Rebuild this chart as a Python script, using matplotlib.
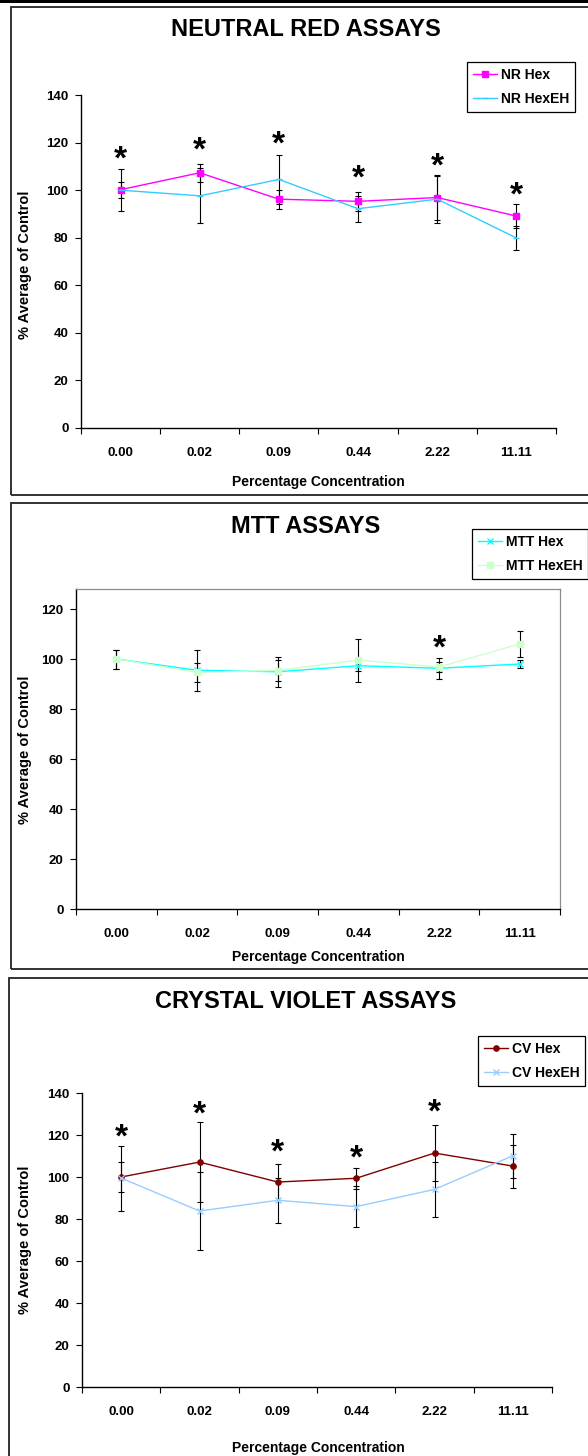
import matplotlib
matplotlib.use('Agg')
import matplotlib.pyplot as plt
from matplotlib.patches import Rectangle

plt.rcParams['font.family'] = ['Liberation Sans', 'DejaVu Sans']
plt.rcParams['font.weight'] = 'bold'

# data
conc = ['0.00', '0.02', '0.09', '0.44', '2.22', '11.11']

nr_hex = [100.2, 107.3, 96.2, 95.3, 96.9, 89.1]
nr_hex_err = [3.3, 3.9, 4.0, 4.0, 9.6, 5.0]
nr_hexeh = [100.0, 97.6, 104.5, 92.2, 96.2, 79.9]
nr_hexeh_err = [8.7, 11.5, 10.3, 5.4, 9.9, 5.0]
nr_stars = [115, 118.6, 121.4, 106.8, 112, 99.6]

mtt_hex = [100.0, 95.5, 94.9, 97.3, 96.3, 98.0]
mtt_hex_err = [3.8, 8.3, 6.0, 2.2, 4.3, 1.6]
mtt_hexeh = [100.0, 94.7, 95.4, 99.6, 96.8, 106.0]
mtt_hexeh_err = [3.8, 3.9, 4.3, 8.6, 2.1, 5.2]
mtt_stars = [None, None, None, None, 106, None]

cv_hex = [100.0, 107.1, 97.6, 99.4, 111.4, 105.2]
cv_hex_err = [7.0, 19.0, 8.6, 5.0, 13.4, 10.2]
cv_hexeh = [99.5, 83.8, 88.9, 85.9, 94.1, 110.1]
cv_hexeh_err = [15.5, 18.6, 10.8, 9.8, 13.0, 10.4]
cv_stars = [121, 131.9, 113.8, 111, 133, None]

W, H = 588, 1456
fig = plt.figure(figsize=(W / 100, H / 100), dpi=100)


def fx(px):
    return px / W


def fy(py):
    return 1 - py / H


def panel_box(top, bottom, left):
    fig.patches.append(Rectangle((fx(left), fy(bottom)), 1.2, fy(top) - fy(bottom),
                                 transform=fig.transFigure, fill=False,
                                 edgecolor='#222222', lw=1.3, clip_on=False))


def make_axes(left, right, top, bottom, ymax, framed=False):
    ax = fig.add_axes([fx(left), fy(bottom), fx(right) - fx(left), fy(top) - fy(bottom)])
    ax.set_xlim(-0.5, len(conc) - 0.5)
    ax.set_ylim(0, ymax)
    ax.set_yticks(range(0, min(ymax, 140) + 1, 20))
    ax.set_xticks([i - 0.5 for i in range(len(conc) + 1)])
    ax.set_xticklabels([])
    ax.set_xticks(range(len(conc)), minor=True)
    ax.set_xticklabels(conc, minor=True)
    ax.tick_params(axis='x', which='major', direction='out', length=4, width=0.8)
    ax.tick_params(axis='x', which='minor', length=0, pad=14, labelsize=9.5)
    ax.tick_params(axis='y', direction='out', length=4, width=0.8, pad=5, labelsize=9.5)
    for lab in ax.get_xticklabels(minor=True) + ax.get_yticklabels():
        lab.set_fontweight('bold')
    ax.spines['left'].set_linewidth(1.0)
    ax.spines['bottom'].set_linewidth(1.0)
    if framed:
        ax.spines['top'].set_color('#8c8c8c')
        ax.spines['right'].set_color('#8c8c8c')
        ax.spines['top'].set_linewidth(0.9)
        ax.spines['right'].set_linewidth(0.9)
    else:
        ax.spines['top'].set_visible(False)
        ax.spines['right'].set_visible(False)
    ax.patch.set_alpha(0)
    return ax


def series(ax, vals, errs, color, marker, ms, label):
    x = range(len(vals))
    ax.errorbar(x, vals, yerr=errs, fmt='none', ecolor='black', elinewidth=0.8,
                capsize=2.3, capthick=0.8, zorder=2)
    ax.plot(x, vals, color=color, lw=1.0, marker=marker, markersize=ms,
            markerfacecolor=color, markeredgecolor=color, markeredgewidth=1.0,
            label=label, zorder=3, clip_on=False)


def stars(ax, ys):
    for i, y in enumerate(ys):
        if y is None:
            continue
        ax.annotate('*', (i, y), xytext=(0, -10), textcoords='offset points',
                    ha='center', va='baseline', fontsize=24, fontweight='bold',
                    annotation_clip=False)


def labels(title, ty, xly, ylc):
    fig.text(fx(306), fy(ty), title, ha='center', va='center', fontsize=17, fontweight='bold')
    fig.text(fx(318), fy(xly), 'Percentage Concentration', ha='center', va='center',
             fontsize=10, fontweight='bold')
    fig.text(fx(25), fy(ylc), '% Average of Control', ha='center', va='center',
             rotation=90, fontsize=10.5, fontweight='bold')


def legend(ax, left, top):
    leg = ax.legend(loc='upper left', bbox_to_anchor=(fx(left), fy(top)),
                    bbox_transform=fig.transFigure, frameon=True, fancybox=False,
                    edgecolor='black', framealpha=1, borderaxespad=0, borderpad=0.4,
                    labelspacing=0.75, handlelength=1.75, handletextpad=0.3,
                    prop={'weight': 'bold', 'size': 10})
    leg.get_frame().set_linewidth(0.9)
    return leg


# top band
fig.patches.append(Rectangle((0, fy(3)), 1, fy(0) - fy(3), transform=fig.transFigure,
                             facecolor='black', edgecolor='none'))

# NEUTRAL RED
panel_box(7, 495, 11)
ax1 = make_axes(81, 556, 95, 428, 140)
series(ax1, nr_hex, nr_hex_err, '#ff00ff', 's', 3.8, 'NR Hex')
series(ax1, nr_hexeh, nr_hexeh_err, '#33ccff', '_', 4.5, 'NR HexEH')
stars(ax1, nr_stars)
legend(ax1, 467, 62)
labels('NEUTRAL RED ASSAYS', 30, 482, 265)

# MTT
panel_box(503, 969, 11)
ax2 = make_axes(76, 560, 589, 909, 128, framed=True)
series(ax2, mtt_hex, mtt_hex_err, '#00ffff', 'x', 4.0, 'MTT Hex')
series(ax2, mtt_hexeh, mtt_hexeh_err, '#ccffcc', 's', 3.8, 'MTT HexEH')
stars(ax2, mtt_stars)
legend(ax2, 472, 529)
labels('MTT ASSAYS', 526, 957, 750)

# CRYSTAL VIOLET
panel_box(978, 1470, 9)
ax3 = make_axes(82, 552, 1093, 1387, 140)
series(ax3, cv_hex, cv_hex_err, '#800000', 'o', 3.8, 'CV Hex')
series(ax3, cv_hexeh, cv_hexeh_err, '#99ccff', 'x', 4.0, 'CV HexEH')
stars(ax3, cv_stars)
legend(ax3, 478, 1036)
labels('CRYSTAL VIOLET ASSAYS', 1002, 1448, 1240)

fig.savefig('out.png', dpi=100)
